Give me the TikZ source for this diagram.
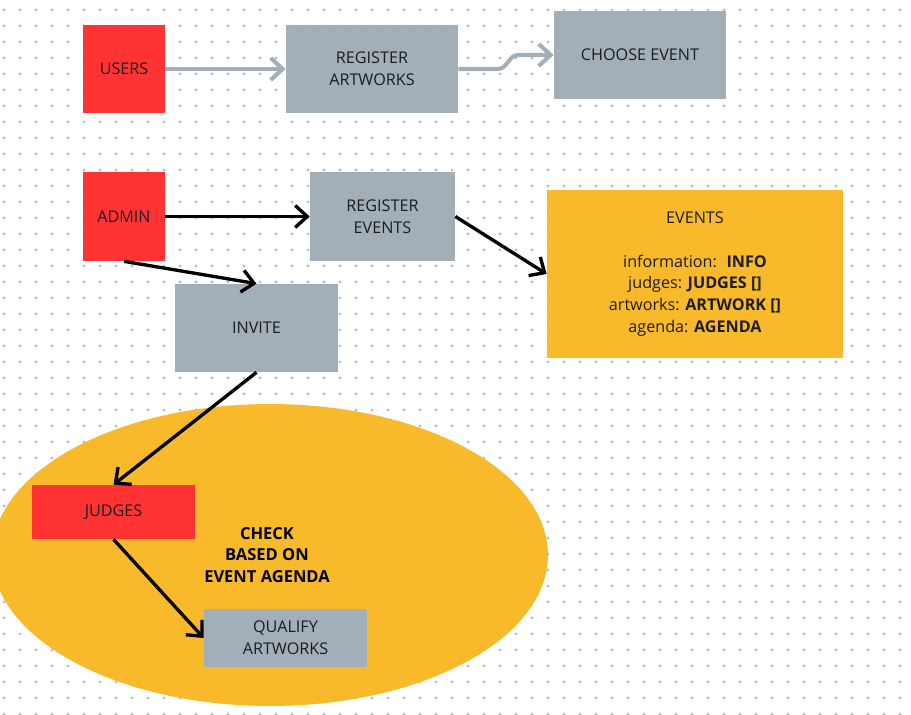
\documentclass[tikz,border=0pt]{standalone}
\usepackage{fontspec}
\setmainfont{Open Sans}
\usepackage{xcolor}
\usetikzlibrary{arrows.meta,calc,positioning,shapes.geometric}
\definecolor{actorred}{HTML}{FF3333}
\definecolor{stepgray}{HTML}{A3AFB8}
\definecolor{dataamber}{HTML}{F8BA2B}
\definecolor{dotgray}{HTML}{B8BEC8}
\definecolor{inkdark}{HTML}{1C1C1C}
\tikzset{
  actor/.style={fill=actorred,text=inkdark,align=center,inner sep=0pt},
  stepbox/.style={fill=stepgray,text=inkdark,align=center,inner sep=0pt},
  flow/.style={-{Straight Barb[length=2.4mm,width=4.4mm]},line width=1.9pt,black},
  softflow/.style={-{Straight Barb[length=2.4mm,width=4.4mm]},line width=2.3pt,stepgray}
}

\begin{document}
\begin{tikzpicture}[x=0.02cm,y=-0.02cm,font=\fontsize{9.2}{12.4}\selectfont]
\useasboundingbox (0,0) rectangle (911,715);
\clip (0,0) rectangle (911,715);
% dot grid
\foreach \i in {4,20,...,900}{\foreach \j in {10,26,...,715}{\fill[dotgray] (\i,\j) circle (0.9pt);}}
% check area
\fill[dataamber] (270,555) ellipse (5.56cm and 3.02cm);
% users row
\node[actor,minimum width=1.64cm,minimum height=1.76cm] (users) at (124,69) {USERS};
\node[stepbox,minimum width=3.44cm,minimum height=1.76cm] (regart) at (372,69) {REGISTER\\ARTWORKS};
\node[stepbox,minimum width=3.44cm,minimum height=1.76cm] (choose) at (640,55) {CHOOSE EVENT};
\draw[softflow] (users) -- (regart);
\coordinate (bendA) at (498,69);
\coordinate (bendB) at (518,55);
\draw[softflow] (regart.east) -- (bendA) to[out=0,in=180] (bendB) -- (choose.west);
% admin row
\node[actor,minimum width=1.64cm,minimum height=1.78cm] (admin) at (124,216.5) {ADMIN};
\node[stepbox,minimum width=2.9cm,minimum height=1.78cm] (regev) at (382.5,216.5) {REGISTER\\EVENTS};
\node[fill=dataamber,text=inkdark,align=center,inner sep=0pt,minimum width=5.92cm,minimum height=3.36cm] (events) at (695,274)
  {EVENTS\\[12.4pt]information:~ \textbf{INFO}\\judges: \textbf{JUDGES []}\\artworks: \textbf{ARTWORK []}\\agenda: \textbf{AGENDA}};
\node[stepbox,minimum width=3.26cm,minimum height=1.76cm] (invite) at (256.5,328) {INVITE};
\draw[flow] (admin) -- (regev);
\draw[flow] (regev.east) -- (events.west);
\draw[flow] (admin.south) -- (invite.north);
% judging
\node[actor,minimum width=3.26cm,minimum height=1.08cm] (judges) at (113.5,512) {JUDGES};
\node[stepbox,minimum width=3.26cm,minimum height=1.16cm] (qualify) at (285.5,638) {QUALIFY\\ARTWORKS};
\node[text=black,align=center,font=\fontsize{9.4}{12.4}\selectfont\bfseries] (check) at (267,555) {CHECK\\BASED ON\\EVENT AGENDA};
\draw[flow] (invite.south) -- (judges.north);
\draw[flow] (judges.south) -- (qualify.west);
\end{tikzpicture}
\end{document}
